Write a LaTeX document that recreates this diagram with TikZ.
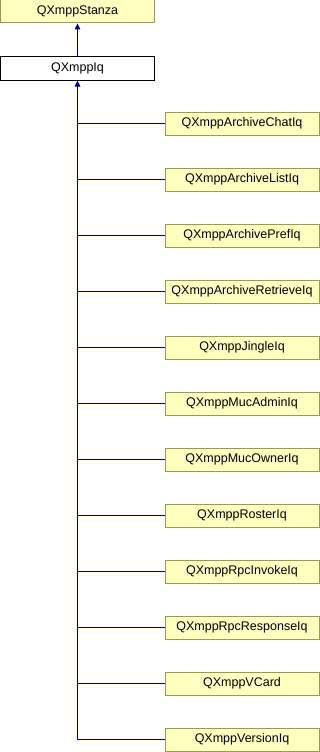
\documentclass[tikz,border=0pt]{standalone}
\usepackage{fontspec}
\setmainfont{Liberation Sans}
\usetikzlibrary{arrows.meta}
\definecolor{boxfill}{HTML}{FFFFC0}
\definecolor{boxedge}{HTML}{9A9A50}
\definecolor{edgeblue}{HTML}{000080}
\begin{document}
\begin{tikzpicture}[x=1pt,y=-1pt,
  cls/.style={draw=boxedge,fill=boxfill,line width=1pt,minimum width=154pt,minimum height=23pt,inner sep=0pt,font=\fontsize{12.5}{14}\selectfont},
  cur/.style={cls,draw=black,fill=white},
  inherit/.style={draw=edgeblue,line width=1pt,-{Triangle[width=5.5pt,length=6pt]}}]
\useasboundingbox (0,0) rectangle (320,752);
\node[cls] (stanza) at (77.5,11.5) {QXmppStanza};
\node[cur] (iq) at (77.5,68.5) {QXmppIq};
\draw[inherit] (iq.north) -- (stanza.south);
\coordinate (trunk) at (77.5,123.5+616);
\draw[inherit] (trunk) -- (iq.south);
\foreach \name [count=\i from 0] in {ArchiveChatIq,ArchiveListIq,ArchivePrefIq,ArchiveRetrieveIq,JingleIq,MucAdminIq,MucOwnerIq,RosterIq,RpcInvokeIq,RpcResponseIq,VCard,VersionIq}{
  \node[cls] (c\i) at (242,123.5+56*\i) {QXmpp\name};
  \coordinate (j\i) at (77.5,123.5+56*\i);
  \draw[draw=edgeblue,line width=1pt] (j\i) -- (c\i.west);
}
\end{tikzpicture}
\end{document}
